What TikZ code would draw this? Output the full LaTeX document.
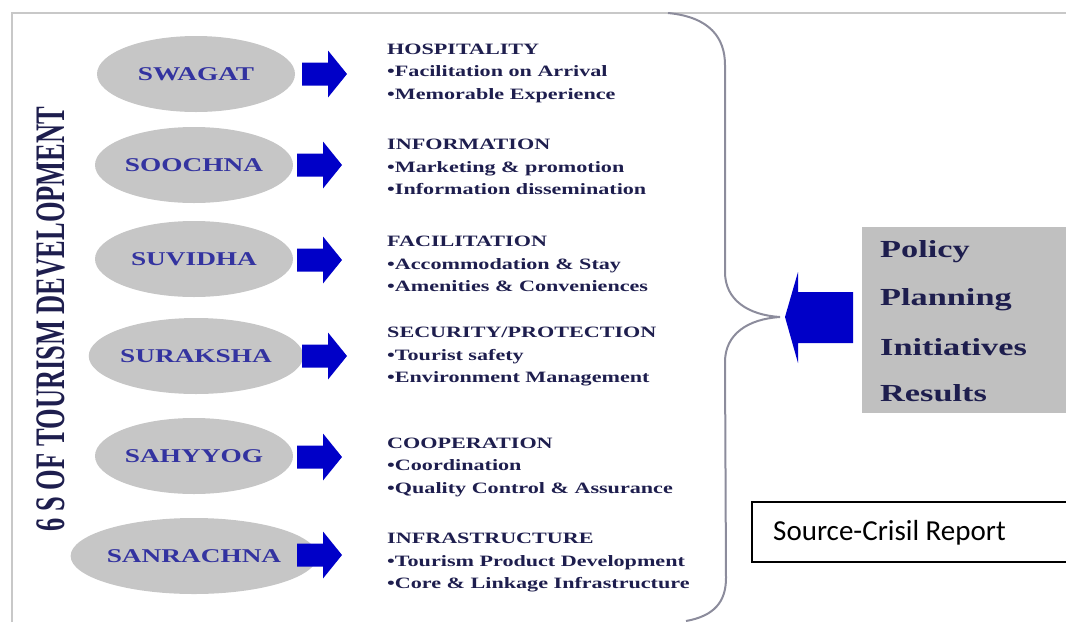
\documentclass[tikz,border=0pt]{standalone}
\usepackage{fontspec}
\setmainfont{Liberation Serif}
\newfontfamily\wideserif{Liberation Serif}[FakeStretch=1.4]
\newfontfamily\narrowserif{Liberation Serif}[FakeStretch=0.63]
\newfontfamily\sourcefont{Carlito}
\usetikzlibrary{shapes.geometric}

\definecolor{framegray}{HTML}{C8C8C8}
\definecolor{ellgray}{HTML}{C6C6C6}
\definecolor{boxgray}{HTML}{C0C0C0}
\definecolor{bracegray}{HTML}{8C8C9C}
\definecolor{arrowblue}{HTML}{0000C8}
\definecolor{labelblue}{HTML}{3333A0}
\definecolor{navy}{HTML}{1E1E4E}

\tikzset{
  frameline/.style={draw=framegray, line width=2.5pt},
  sbubble/.style={ellipse, fill=ellgray, minimum width=198pt, minimum height=76pt,
    inner sep=0pt, text=labelblue,
    font=\wideserif\bfseries\fontsize{19.5}{20}\selectfont},
  infotext/.style={anchor=west, align=left, inner sep=0pt, text=navy,
    font=\wideserif\bfseries\fontsize{15.8}{22.5}\selectfont},
  blockarrow/.pic={\fill[arrowblue] (-23,-11.5) -- (3,-11.5) -- (3,-23.5) -- (22,0)
    -- (3,23.5) -- (3,11.5) -- (-23,11.5) -- cycle;},
  policytext/.style={anchor=west, inner sep=0pt, text=navy,
    font=\wideserif\bfseries\fontsize{24.5}{25}\selectfont},
}

\begin{document}
\begin{tikzpicture}[x=1pt,y=-1pt]
\useasboundingbox (0,0) rectangle (1066,622);

% outer frame (top and left edges)
\coordinate (fbl) at (12,622);
\coordinate (ftl) at (12,13);
\coordinate (ftr) at (1066,13);
\draw[frameline] (fbl) -- (ftl) -- (ftr);

% vertical title
\node[rotate=90, inner sep=0pt, text=navy,
  font=\narrowserif\bfseries\fontsize{42}{42}\selectfont] (title) at (51,319)
  {6 S OF TOURISM DEVELOPMENT};

% the six S bubbles
\node[sbubble] (swagat)    at (196,74)  {SWAGAT};
\node[sbubble] (soochna)   at (194,165) {SOOCHNA};
\node[sbubble] (suvidha)   at (194,259) {SUVIDHA};
\node[sbubble] (suraksha)  at (196,356) {SURAKSHA};
\node[sbubble] (sahyyog)   at (194,456) {SAHYYOG};
\node[sbubble] (sanrachna) at (194,556) {SANRACHNA};

% block arrows from bubbles to their descriptions
\pic at (325,74)  {blockarrow};
\pic at (320,165) {blockarrow};
\pic at (320,260) {blockarrow};
\pic at (325,356) {blockarrow};
\pic at (320,457) {blockarrow};
\pic at (320,555) {blockarrow};

% descriptions
\node[infotext] (hosp) at (387,73)
  {HOSPITALITY\\\textbullet Facilitation on Arrival\\\textbullet Memorable Experience};
\node[infotext] (info) at (387,167)
  {INFORMATION\\\textbullet Marketing \& promotion\\\textbullet Information dissemination};
\node[infotext] (faci) at (387,264)
  {FACILITATION\\\textbullet Accommodation \& Stay\\\textbullet Amenities \& Conveniences};
\node[infotext] (secu) at (387,357)
  {SECURITY/PROTECTION\\\textbullet Tourist safety\\\textbullet Environment Management};
\node[infotext] (coop) at (387,467)
  {COOPERATION\\\textbullet Coordination\\\textbullet Quality Control \& Assurance};
\node[infotext] (infra) at (387,563)
  {INFRASTRUCTURE\\\textbullet Tourism Product Development\\\textbullet Core \& Linkage Infrastructure};

% curly brace gathering the six S
\coordinate (btop) at (668,13);
\coordinate (btip) at (780,317);
\coordinate (bbot) at (686,621);
\draw[bracegray, line width=2pt]
  (btop) .. controls (710,17) and (725,38) .. (725,65)
  -- (725,272) .. controls (725,300) and (748,315) .. (btip)
  .. controls (748,319) and (725,334) .. (725,362)
  -- (726,578) .. controls (726,602) and (714,616) .. (bbot);

% policy box
\fill[boxgray] (862,227) rectangle (1080,413);
\node[policytext] (policy)   at (880,252) {Policy};
\node[policytext] (planning) at (880,300) {Planning};
\node[policytext] (init)     at (880,347) {Initiatives};
\node[policytext] (results)  at (880,393) {Results};

% big arrow from the policy box to the brace
\fill[arrowblue] (853,292) -- (798,292) -- (798,272) -- (785,317)
  -- (798,363) -- (798,343) -- (853,343) -- cycle;

% source note (box runs on past the right edge)
\node[draw=black, line width=1.2pt, minimum width=340pt, minimum height=60pt,
  inner sep=0pt] (srcbox) at (922,532) {};
\node[anchor=west, inner sep=0pt, font=\sourcefont\fontsize{29}{30}\selectfont]
  (src) at (773,533) {Source-Crisil Report};
\end{tikzpicture}
\end{document}
